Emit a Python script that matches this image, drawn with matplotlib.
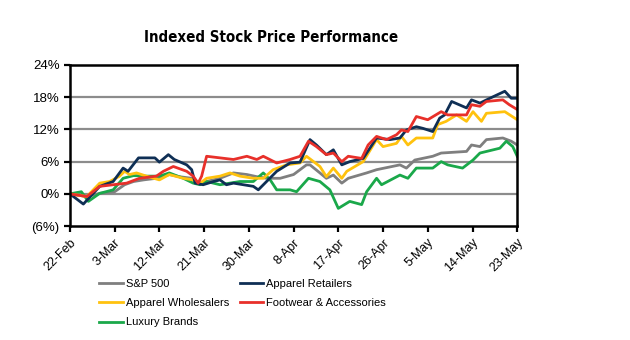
import matplotlib
matplotlib.use("Agg")
import matplotlib.pyplot as plt

# x values are calendar days after 22-Feb
tick_days = [0, 9, 18, 27, 36, 45, 54, 63, 72, 81, 90]
tick_labels = ['22-Feb', '3-Mar', '12-Mar', '21-Mar', '30-Mar', '8-Apr',
               '17-Apr', '26-Apr', '5-May', '14-May', '23-May']
y_ticks = [-6, 0, 6, 12, 18, 24]
y_labels = ['(6%)', '0%', '6%', '12%', '18%', '24%']

sp_days = [0, 3.4, 6, 9, 11, 12.8, 14.8, 17.4, 20, 22, 24.5, 25.5, 27.5, 30.2, 32.9,
           35.6, 37.6, 39.6, 42.3, 45, 47.6, 48.3, 50.3, 51.6, 53, 54.7, 56, 59.7,
           61.7, 66.4, 67.7, 69.4, 73, 74.7, 79.8, 80.8, 82.5, 83.8, 87.1, 88.8, 90]
sp_vals = [0, -0.5, 0.1, 0.4, 1.7, 2.3, 2.6, 2.9, 3.6, 3.2, 2.9, 2.0, 2.3, 2.9, 3.9,
           3.6, 3.2, 2.9, 2.9, 3.6, 5.4, 5.4, 3.9, 2.9, 3.5, 2.0, 2.9, 3.9,
           4.5, 5.4, 4.8, 6.3, 7.0, 7.6, 7.9, 9.1, 8.8, 10.1, 10.4, 9.8, 9.1]

ret_days = [0, 2.7, 6, 8.7, 10.7, 11.7, 13.8, 17.1, 18, 19.8, 21, 23.5, 24.5, 25.2,
            26.8, 28.9, 30.2, 31.5, 32.9, 36.9, 37.9, 41.6, 44.3, 46.3, 48.3, 49.6,
            51.6, 53, 54.7, 56.3, 59, 61.7, 64.4, 66.4, 67.7, 69.7, 71, 73, 74.4,
            75.4, 76.8, 79.8, 80.8, 82.5, 84.5, 87.5, 88.8, 90]
ret_vals = [0, -1.9, 1.4, 2.3, 4.8, 4.2, 6.7, 6.7, 5.9, 7.3, 6.4, 5.4, 4.5, 2.0,
            1.7, 2.3, 2.6, 1.7, 2.0, 1.4, 0.75, 4.2, 5.75, 5.9, 10.1, 9.1,
            7.3, 8.2, 5.4, 6.0, 6.6, 10.4, 10.1, 10.4, 11.9, 12.5, 12.2, 11.6, 14.1,
            14.7, 17.2, 16.0, 17.5, 16.9, 17.8, 19.1, 17.8, 17.8]

whl_days = [0, 3.4, 6, 8, 10, 11, 12, 13.4, 15.4, 18, 20, 22.8, 24.8, 26.2, 27.5,
            30.2, 32.2, 34.2, 36.9, 38.9, 40.9, 43.6, 46.3, 47.6, 50.3, 51.6, 53,
            54.7, 55.7, 59, 61.7, 63, 65.7, 66.7, 68, 69.7, 73, 74, 75.7, 77.8,
            79.8, 81.1, 82.8, 83.8, 87.5, 90]
whl_vals = [0, -0.5, 2.0, 2.3, 3.3, 4.2, 3.6, 3.9, 3.3, 2.6, 3.6, 2.9, 2.6, 2.0, 2.9,
            3.3, 3.9, 3.3, 2.9, 2.9, 4.5, 5.4, 5.75, 7.0, 5.1, 3.2, 4.8,
            2.9, 4.2, 6.0, 10.1, 8.8, 9.4, 10.7, 9.1, 10.4, 10.4, 12.9, 13.5, 14.7,
            13.5, 15.3, 13.5, 15.0, 15.3, 13.8]

ftw_days = [0, 3.4, 6, 8.7, 11.4, 14, 17.4, 18.8, 20.8, 23.5, 24.8, 25.8, 26.5,
            27.5, 30.2, 32.9, 35.6, 37.6, 38.9, 41.6, 44.3, 46.3, 48, 49.6, 51.6,
            53, 54.7, 56, 58.7, 60, 61.7, 63.7, 65.7, 66.7, 68, 69.7, 72, 74.7, 76,
            79.8, 80.8, 82.5, 83.8, 87.1, 88.4, 90]
ftw_vals = [0, -0.5, 1.4, 1.7, 2.0, 2.9, 3.3, 4.2, 5.1, 4.2, 3.3, 2.0, 3.3,
            7.0, 6.7, 6.4, 7.0, 6.4, 7.0, 5.75, 6.4, 7.0, 9.8, 8.8, 7.3,
            7.6, 6.0, 7.0, 6.6, 9.1, 10.7, 10.1, 11.0, 11.9, 11.6, 14.4, 13.8, 15.3, 14.7,
            14.7, 16.6, 16.3, 17.2, 17.5, 16.6, 15.7]

lux_days = [0, 2.3, 3.7, 6, 8.7, 10.7, 12.8, 15.4, 18, 20, 22.8, 24.8, 26.2, 27.5,
            30.2, 34.2, 36.9, 38.9, 40.3, 41.6, 44.3, 45.6, 48, 50.3, 52.3, 54,
            56.3, 58.7, 59.7, 61.7, 62.7, 66.4, 68, 69.7, 73, 74.7, 76, 79, 81.1,
            82.5, 86.5, 87.8, 89.1, 90]
lux_vals = [0, 0.4, -1.4, 0.1, 0.75, 2.9, 3.4, 3.3, 3.3, 3.9, 2.9, 2.0, 1.7, 2.3,
            1.7, 2.3, 2.3, 3.9, 2.6, 0.75, 0.75, 0.4, 2.9, 2.3, 0.75, -2.7,
            -1.4, -2.0, 0.4, 2.9, 1.7, 3.5, 2.9, 4.8, 4.8, 6.0, 5.4, 4.8, 6.3,
            7.6, 8.5, 9.8, 8.8, 7.0]

fig = plt.figure(figsize=(6.3, 3.4), dpi=100)
ax = fig.add_axes([0.111, 0.335, 0.710, 0.474])

lw = 2.0
l_sp, = ax.plot(sp_days, sp_vals, color='#7f7f7f', lw=lw, label='S&P 500')
l_lux, = ax.plot(lux_days, lux_vals, color='#1aa84a', lw=lw, label='Luxury Brands')
l_whl, = ax.plot(whl_days, whl_vals, color='#ffc20e', lw=lw, label='Apparel Wholesalers')
l_ret, = ax.plot(ret_days, ret_vals, color='#0f2f55', lw=lw, label='Apparel Retailers')
l_ftw, = ax.plot(ftw_days, ftw_vals, color='#e8302a', lw=lw, label='Footwear & Accessories')

# horizontal gridlines
for y in y_ticks[1:-1]:
    ax.axhline(y, color='#8c8c8c', lw=1.6, zorder=0)

ax.set_xlim(0, 90)
ax.set_ylim(-6, 24)
ax.set_xticks(tick_days)
ax.set_xticklabels(tick_labels, rotation=45, ha='right', rotation_mode='anchor',
                   fontsize=9, family='Liberation Sans')
ax.set_yticks(y_ticks)
ax.set_yticklabels(y_labels, fontsize=9.5, family='Liberation Sans')
ax.tick_params(axis='both', direction='out', length=4, width=1.6, color='black')
for s in ax.spines.values():
    s.set_linewidth(1.8)
    s.set_color('black')

fig.text(0.43, 0.89, 'Indexed Stock Price Performance', ha='center', va='center',
         fontsize=10.8, fontweight='bold', family='DejaVu Sans', stretch='condensed')

handles = [l_sp, l_whl, l_lux, l_ret, l_ftw]
fig.legend(handles, [h.get_label() for h in handles], ncol=2, frameon=False,
           loc='upper left', bbox_to_anchor=(0.142, 0.21), handlelength=2.1,
           handletextpad=0.25, columnspacing=1.0, labelspacing=0.85,
           prop={'family': 'Liberation Sans', 'size': 8})

fig.savefig('out.png', dpi=100)
